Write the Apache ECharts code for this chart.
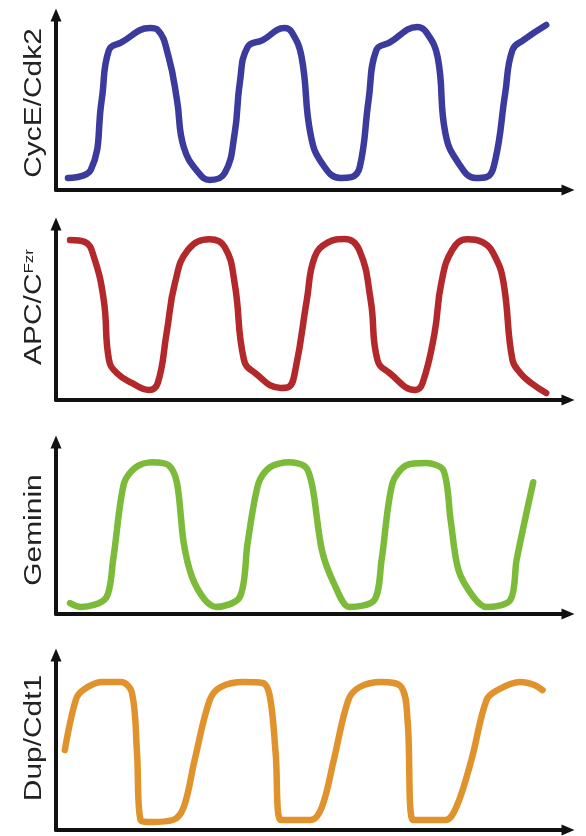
<!DOCTYPE html>
<html>
<head>
<meta charset="utf-8">
<script src="https://cdn.jsdelivr.net/npm/echarts@6/dist/echarts.min.js"></script>
<style>
html,body{margin:0;padding:0;background:#fff;}
#chart{width:586px;height:836px;}
</style>
</head>
<body>
<div id="chart"></div>
<script>
// Panel labels
var labels = ['CycE/Cdk2', 'APC/C{sup|Fzr}', 'Geminin', 'Dup/Cdt1'];
var colors = ['#3a3b9c', '#b3282a', '#7cba3a', '#e0932c'];

// [time, level] pairs (time 0-100, level 0-100)
var cycE = [[2.3,6.6],[6.7,11],[8.8,49.5],[10.2,77],[12.5,81],[18.1,89],[19.6,88],[21.7,73],[23.3,49.5],[24.6,23.6],[27.5,9.3],[29.6,5.5],[32.5,9.3],[34.4,31],[35.4,59],[36.9,78.6],[39.8,82.4],[44,89],[45.4,86.8],[47.3,73],[49,31],[51.2,14.8],[54.8,6.6],[56.9,7.1],[58.5,12.6],[60.2,49.5],[61.7,77],[64.2,81],[69.6,89.6],[71.3,86.8],[73.5,73],[75,31],[77.5,14.8],[80.8,6.6],[82.9,7.1],[84.6,16.5],[86.5,53],[87.9,77],[90,82.4],[94.4,90.7]];
var apc = [[2.7,87.4],[5.6,86.3],[7.3,78.1],[9.2,54.6],[10.2,21.9],[11.7,14.8],[14.6,9.3],[17.9,5.5],[19.6,9.3],[21.3,36.6],[22.9,63.9],[25.4,82],[29.6,87.8],[32.5,83.6],[34.4,63.9],[36.2,21.9],[38.3,14.8],[43.3,6.6],[44.8,7.1],[46.2,18],[48.3,54.6],[49.8,78.1],[52.3,86],[55.6,88],[58.4,82],[60.6,54.6],[61.9,21.9],[64.2,14.8],[69.2,5.5],[70.6,9.3],[72.9,36.6],[74.2,63.9],[76.3,82],[79.2,87.8],[82.3,86],[84.6,78],[86.2,63.9],[87.9,21.9],[89.4,14.8],[91.5,9.3],[94.4,3.8]];
var geminin = [[2.7,6.1],[4.8,3.9],[9.6,8.9],[11,30.2],[13.1,73.2],[15.4,82.1],[18.5,84.9],[21.7,83.2],[23.3,73.2],[24.6,39.7],[26.2,20.7],[28.7,7.8],[30.8,3.9],[35.4,9.5],[36.9,39.7],[39,73.2],[41.2,82.1],[44.8,84.9],[48.1,82.1],[49.4,70.9],[51.2,35.8],[53.5,17.3],[56.5,3.9],[61.3,7.8],[62.7,30.2],[64.8,73.2],[67.5,83.2],[71.3,84.4],[74.6,80.4],[76,52.5],[77.5,24.6],[80.4,9.5],[82.9,3.9],[87.5,7.8],[88.7,30.2],[91.9,73.7]];
var dup = [[1.7,44],[3.8,71.4],[5.2,76.9],[8.8,81.3],[12.5,81.3],[14.6,75.8],[15.6,42.3],[16.3,5.5],[18.3,4.4],[22.5,5.5],[24.6,12.6],[26.7,38.5],[29.6,71.4],[31.7,78.6],[36.2,81.3],[39.8,80.8],[41.2,73.1],[42.3,42.3],[43.3,5.5],[49,5.5],[51.2,12.6],[53.5,38.5],[56.3,71.4],[58.5,78.6],[62.7,81.3],[66.5,78.6],[67.7,60.4],[68.8,5.5],[75,5.5],[77.1,12.6],[80,38.5],[82.9,71.4],[85,76.9],[89.4,81.3],[92.1,79.7],[93.7,76.9]];

var seriesData = [cycE, apc, geminin, dup];
var smoothness = [0.45, 0.45, 0.3, 0.35];

var grids = [
  {left: 56, width: 512, top: 15, height: 175},
  {left: 56, width: 512, top: 224, height: 176},
  {left: 56, width: 512, top: 442, height: 172},
  {left: 56, width: 512, top: 655, height: 175}
];
var labelCenters = [103, 307, 530, 738];

var axisLine = {
  show: true,
  symbol: ['none', 'triangle'],
  symbolSize: [11, 13],
  lineStyle: {color: '#111', width: 4}
};

var option = {
  backgroundColor: '#ffffff',
  animation: false,
  grid: grids,
  xAxis: grids.map(function (g, i) {
    return {type: 'value', gridIndex: i, min: 0, max: 98.6,
      axisLine: axisLine, axisTick: {show: false}, axisLabel: {show: false}, splitLine: {show: false}};
  }),
  yAxis: grids.map(function (g, i) {
    return {type: 'value', gridIndex: i, min: 0, max: 96.2,
      axisLine: axisLine, axisTick: {show: false}, axisLabel: {show: false}, splitLine: {show: false}};
  }),
  series: seriesData.map(function (d, i) {
    return {type: 'line', xAxisIndex: i, yAxisIndex: i, data: d, smooth: smoothness[i],
      showSymbol: false, lineStyle: {color: colors[i], width: 6.5, cap: 'round', join: 'round'}};
  }),
  graphic: labels.map(function (t, i) {
    return {
      type: 'text', x: 35, y: labelCenters[i], rotation: Math.PI / 2, scaleX: 1.3, scaleY: 1,
      style: {
        text: t, fill: '#222', fontFamily: 'Liberation Sans, Arial, sans-serif', fontSize: 23,
        align: 'center', verticalAlign: 'middle',
        rich: {sup: {fontSize: 13, fill: '#222', fontFamily: 'Liberation Sans, Arial, sans-serif', padding: [0, 0, 12, 0]}}
      }
    };
  })
};

var chart = echarts.init(document.getElementById('chart'), null, {renderer: 'canvas'});
chart.setOption(option);
</script>
</body>
</html>
